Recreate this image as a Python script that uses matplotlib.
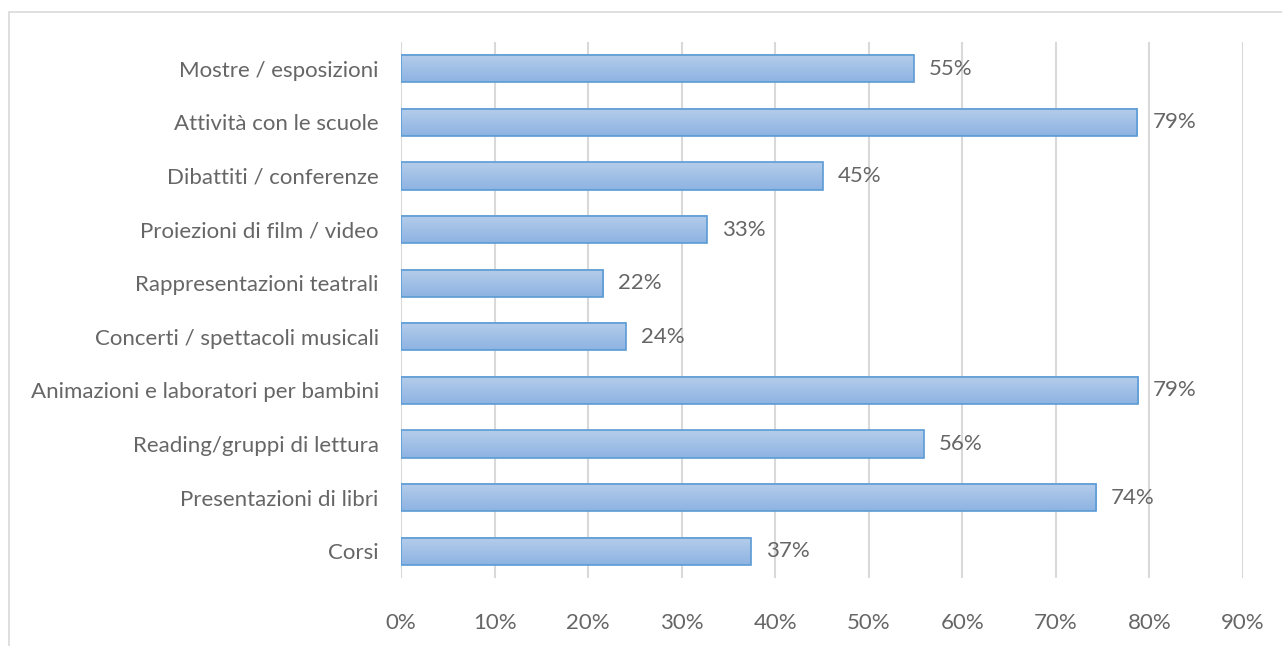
import matplotlib.pyplot as plt
import numpy as np
from matplotlib.patches import Rectangle
from matplotlib.ticker import FuncFormatter, MultipleLocator

# categorie dall'alto verso il basso
categories = [
    'Mostre / esposizioni',
    'Attività con le scuole',
    'Dibattiti / conferenze',
    'Proiezioni di film / video',
    'Rappresentazioni teatrali',
    'Concerti / spettacoli musicali',
    'Animazioni e laboratori per bambini',
    'Reading/gruppi di lettura',
    'Presentazioni di libri',
    'Corsi',
]
values = [0.548, 0.787, 0.451, 0.327, 0.216, 0.240, 0.788, 0.559, 0.743, 0.374]

W, H = 1282, 646
fig = plt.figure(figsize=(W / 100, H / 100), dpi=100)
plt.rcParams['font.family'] = ['Lato', 'DejaVu Sans']
text_color = '#666666'
fs = 16

# cornice grigia del grafico
fig.patches.append(Rectangle((9 / W, -0.05), 1.05, 1.05 - 12 / H,
                             transform=fig.transFigure, fill=False,
                             edgecolor='#d9d9d9', linewidth=1.2))

ax = fig.add_axes([401 / W, 1 - 578 / H, (1243 - 401) / W, (578 - 42) / H])

y = np.arange(len(categories))
bars = ax.barh(y, values, height=0.51, color='none', edgecolor='#5b9bd5',
               linewidth=1.2, zorder=3)

# riempimento sfumato come in Excel
grad = np.linspace(0, 1, 64).reshape(-1, 1)
cmap = plt.matplotlib.colors.LinearSegmentedColormap.from_list('g', ['#b5cdeb', '#8db3e2'])
for b in bars:
    x0, y0, w, h = b.get_x(), b.get_y(), b.get_width(), b.get_height()
    ax.imshow(grad, extent=(x0, x0 + w, y0 + h, y0), aspect='auto',
              cmap=cmap, zorder=2, interpolation='bilinear')

for v, yy in zip(values, y):
    ax.text(v + 0.016, yy, f'{round(v * 100):.0f}%', va='center', ha='left',
            fontsize=fs, color=text_color, zorder=4)

ax.set_xlim(0, 0.9)
ax.set_ylim(len(categories) - 0.5, -0.5)
ax.xaxis.set_major_locator(MultipleLocator(0.1))
ax.xaxis.set_major_formatter(FuncFormatter(lambda x, p: f'{x * 100:.0f}%'))
ax.set_yticks(y)
ax.set_yticklabels(categories)
ax.tick_params(axis='both', length=0, labelsize=fs, labelcolor=text_color)
ax.tick_params(axis='x', pad=25)
ax.tick_params(axis='y', pad=16)
ax.grid(axis='x', color='#d9d9d9', linewidth=1.5, zorder=0)
for s in ax.spines.values():
    s.set_visible(False)

fig.savefig('out.png', dpi=100)
